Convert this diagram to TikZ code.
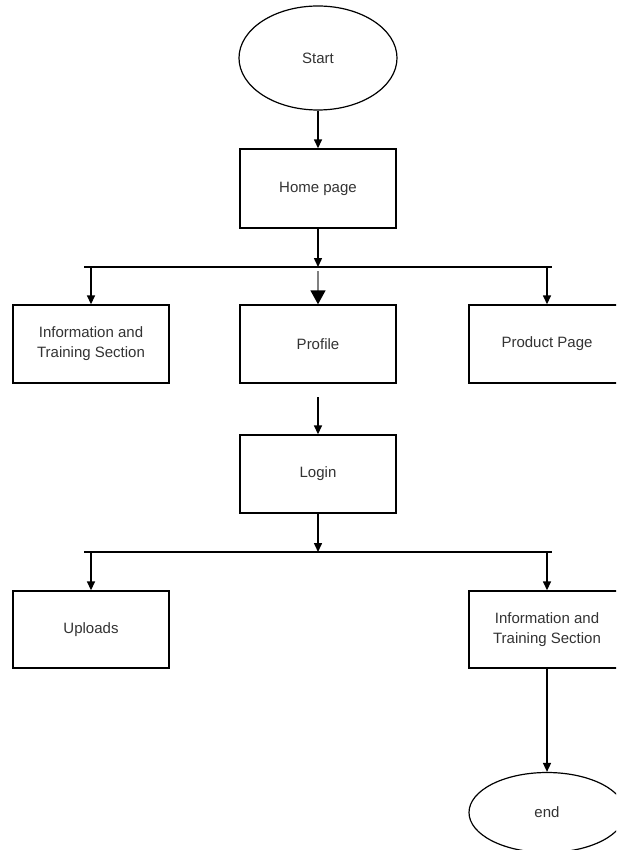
\documentclass[tikz,border=0pt]{standalone}
\usepackage{fontspec}
\setmainfont{Liberation Sans}
\usetikzlibrary{shapes.geometric,arrows.meta}
\definecolor{txt}{HTML}{333333}
\definecolor{midline}{HTML}{808080}
\begin{document}
\begin{tikzpicture}[x=1pt,y=-1pt,
  every node/.style={font=\fontsize{15}{20}\selectfont, text=txt},
  box/.style={draw=black, line width=1.4pt, rectangle, inner sep=0pt,
              minimum width=156pt, minimum height=78pt, align=center},
  oval/.style={draw=black, line width=1.2pt, ellipse, inner sep=0pt},
  link/.style={draw=black, line width=1.5pt},
  flow/.style={link, -{Triangle[length=9pt,width=8pt]}},
  bigflow/.style={draw=midline, line width=1.5pt, -{Triangle[length=14pt,width=15pt,color=black]}}]
  % page frame
  \fill[white] (0,0) rectangle (616,850);
  \clip (0,0) rectangle (616,850);

  % nodes
  \node[oval, minimum width=158pt, minimum height=104pt] (start) at (318,58) {Start};
  \node[box, minimum height=79pt] (home) at (318,188.5) {Home page};
  \node[box] (info1) at (91,344) {Information and\\Training Section};
  \node[box] (profile) at (318,344) {Profile};
  \node[box] (product) at (547,344) {Product Page};
  \node[box] (login) at (318,474) {Login};
  \node[box, minimum height=77pt] (uploads) at (91,629.5) {Uploads};
  \node[box, minimum height=77pt] (info2) at (547,629.5) {Information and\\Training Section};
  \node[oval, minimum width=156pt, minimum height=80pt] (end) at (547,812.5) {end};

  % branch points
  \coordinate (j1) at (318,267);
  \coordinate (b1l) at (84,267);
  \coordinate (b1r) at (552,267);
  \coordinate (c1) at (318,271);
  \coordinate (p1) at (318,397);
  \coordinate (j2) at (318,552);
  \coordinate (b2l) at (84,552);
  \coordinate (b2r) at (552,552);

  % connectors
  \draw[flow] (start.south) -- (home.north);
  \draw[flow] (home.south) -- (j1);
  \draw[link] (b1l) -- (b1r);
  \draw[flow] (info1.north |- j1) -- (info1.north);
  \draw[flow] (product.north |- j1) -- (product.north);
  \draw[bigflow] (c1) -- (profile.north);
  \draw[flow] (p1) -- (login.north);
  \draw[flow] (login.south) -- (j2);
  \draw[link] (b2l) -- (b2r);
  \draw[flow] (uploads.north |- j2) -- (uploads.north);
  \draw[flow] (info2.north |- j2) -- (info2.north);
  \draw[flow] (info2.south) -- (end.north);
\end{tikzpicture}
\end{document}
